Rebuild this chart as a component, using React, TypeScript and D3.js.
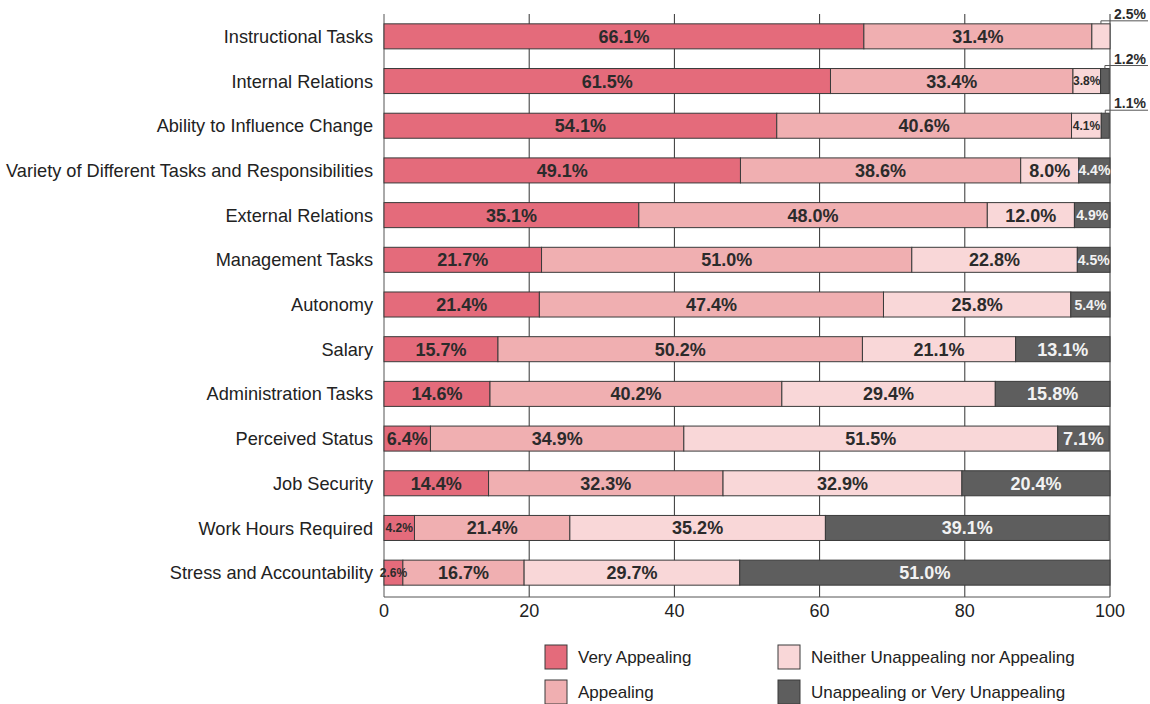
import React from "react";
import * as d3 from "d3";

const categories = [
  "Instructional Tasks",
  "Internal Relations",
  "Ability to Influence Change",
  "Variety of Different Tasks and Responsibilities",
  "External Relations",
  "Management Tasks",
  "Autonomy",
  "Salary",
  "Administration Tasks",
  "Perceived Status",
  "Job Security",
  "Work Hours Required",
  "Stress and Accountability",
];

const seriesNames = [
  "Very Appealing",
  "Appealing",
  "Neither Unappealing nor Appealing",
  "Unappealing or Very Unappealing",
];

const veryAppealing = [66.1, 61.5, 54.1, 49.1, 35.1, 21.7, 21.4, 15.7, 14.6, 6.4, 14.4, 4.2, 2.6];
const appealing = [31.4, 33.4, 40.6, 38.6, 48.0, 51.0, 47.4, 50.2, 40.2, 34.9, 32.3, 21.4, 16.7];
const neither = [2.5, 3.8, 4.1, 8.0, 12.0, 22.8, 25.8, 21.1, 29.4, 51.5, 32.9, 35.2, 29.7];
const unappealing = [0, 1.2, 1.1, 4.4, 4.9, 4.5, 5.4, 13.1, 15.8, 7.1, 20.4, 39.1, 51.0];

const xTicks = [0, 20, 40, 60, 80, 100];

const colors = ["#E46B7B", "#F0AFB1", "#F9D7D8", "#5E5E5E"];
const textColors = ["#2b2b2b", "#2b2b2b", "#2b2b2b", "#f2f2f2"];

const W = 1150;
const H = 704;
const left = 384;
const right = 1110;
const top = 14;
const bottom = 595;
const axisY = 597;
const FONT = "'Liberation Sans', Arial, Helvetica, sans-serif";

export default function App() {
  const x = d3.scaleLinear().domain([0, 100]).range([left, right]);
  const y = d3
    .scaleBand<string>()
    .domain(categories)
    .range([top, bottom])
    .paddingInner(0.44)
    .paddingOuter(0.22);

  const allSeries = [veryAppealing, appealing, neither, unappealing];
  const table = categories.map((c, i) => {
    const row: any = { cat: c };
    seriesNames.forEach((s, k) => (row[s] = allSeries[k][i]));
    return row;
  });
  const stacked = d3.stack<any>().keys(seriesNames)(table);

  const bh = y.bandwidth();

  const segs: any[] = [];
  stacked.forEach((layer, k) => {
    layer.forEach((d, i) => {
      const v = allSeries[k][i];
      if (v <= 0) return;
      const x0 = x(d[0]);
      const x1 = Math.min(x(d[1]), right);
      segs.push({ k, i, v, x0, x1, y0: y(categories[i])! });
    });
  });

  return (
    <svg
      width={W}
      height={H}
      style={{ position: "absolute", left: 0, top: 0, background: "#fff" }}
      fontFamily={FONT}
    >
      {/* gridlines */}
      {xTicks.map((t) => (
        <line
          key={"g" + t}
          x1={x(t)}
          x2={x(t)}
          y1={top}
          y2={axisY}
          stroke={t === 0 ? "#555" : "#333"}
          strokeWidth={1}
        />
      ))}
      <line x1={left} x2={right} y1={axisY} y2={axisY} stroke="#555" strokeWidth={1} />

      {/* bars */}
      {segs.map((s, n) => (
        <rect
          key={"r" + n}
          x={s.x0}
          y={s.y0}
          width={Math.max(0, s.x1 - s.x0)}
          height={bh}
          fill={colors[s.k]}
          stroke="#3a3a3a"
          strokeWidth={1}
        />
      ))}

      {/* labels */}
      {segs.map((s, n) => {
        const w = s.x1 - s.x0;
        const label = s.v.toFixed(1) + "%";
        const cy = s.y0 + bh / 2;
        if (s.v < 3 && s.k > 0) {
          const mx = (s.x0 + s.x1) / 2;
          const ly = s.y0 - 3;
          return (
            <g key={"l" + n}>
              <polyline
                points={`${mx},${s.y0} ${mx},${ly} ${1148},${ly}`}
                fill="none"
                stroke="#555"
                strokeWidth={1}
              />
              <text
                x={1114}
                y={ly - 2}
                fontSize={14}
                fontWeight="bold"
                fill="#2b2b2b"
              >
                {label}
              </text>
            </g>
          );
        }
        const fs = w >= 40 ? 18 : w >= 31 ? 14 : 12;
        return (
          <text
            key={"l" + n}
            x={(s.x0 + s.x1) / 2}
            y={cy}
            dy="0.36em"
            textAnchor="middle"
            fontSize={fs}
            fontWeight="bold"
            fill={textColors[s.k]}
          >
            {label}
          </text>
        );
      })}

      {/* category labels */}
      {categories.map((c) => (
        <text
          key={"c" + c}
          x={373}
          y={y(c)! + bh / 2}
          dy="0.36em"
          textAnchor="end"
          fontSize={18.2}
          fill="#222"
        >
          {c}
        </text>
      ))}

      {/* x tick labels */}
      {xTicks.map((t) => (
        <text
          key={"t" + t}
          x={x(t)}
          y={611}
          dy="0.36em"
          textAnchor="middle"
          fontSize={18}
          fill="#222"
        >
          {t}
        </text>
      ))}

      {/* legend */}
      {seriesNames.map((s, k) => {
        const col = k < 2 ? 0 : 1;
        const row = k % 2;
        const lx = col === 0 ? 545 : 778;
        const ly = row === 0 ? 657 : 692;
        return (
          <g key={"lg" + k}>
            <rect
              x={lx}
              y={ly - 12}
              width={22}
              height={24}
              fill={colors[k]}
              stroke="#3a3a3a"
              strokeWidth={1}
            />
            <text x={lx + 33} y={ly} dy="0.36em" fontSize={17} fill="#222">
              {s}
            </text>
          </g>
        );
      })}
    </svg>
  );
}
